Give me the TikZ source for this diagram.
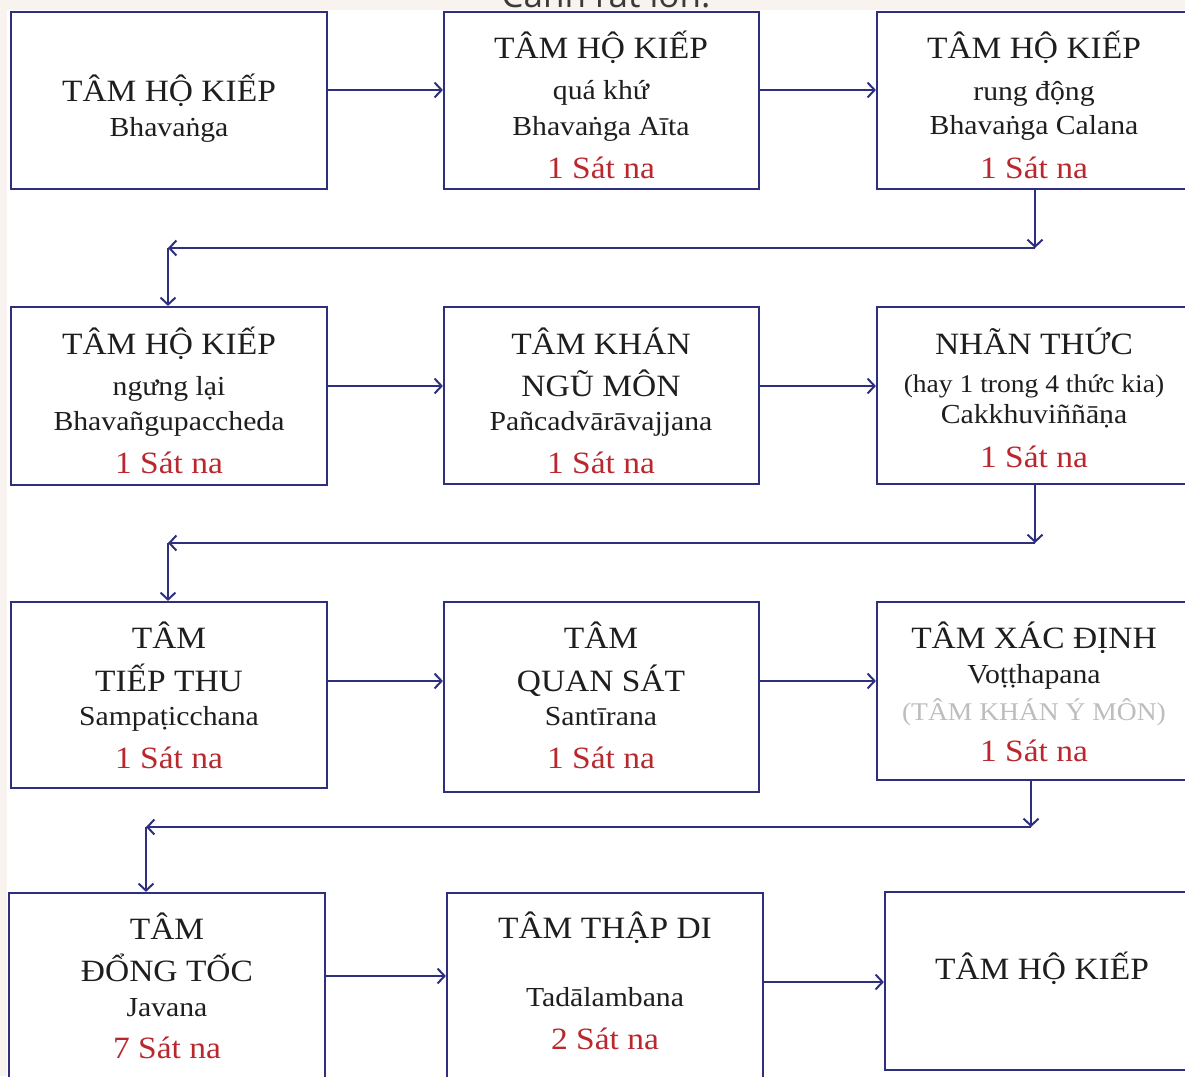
\documentclass[tikz,border=0pt]{standalone}
\usepackage{fontspec}
\setmainfont[FakeStretch=1.08]{Liberation Serif}
\newfontfamily\topfont{Open Sans}
\usetikzlibrary{arrows.meta}
\definecolor{navy}{HTML}{2E2F7E}
\definecolor{redc}{HTML}{B8282E}
\definecolor{txt}{HTML}{1E1E1E}
\definecolor{graytxt}{HTML}{BDBDBD}
\definecolor{beige}{HTML}{F8F3EF}
\definecolor{topgray}{HTML}{3A3A3A}
\begin{document}
\begin{tikzpicture}[x=1pt,y=-1pt,
  box/.style={draw=navy, line width=2.2pt, fill=white, inner sep=0pt, minimum width=316pt, minimum height=177pt},
  arr/.style={draw=navy, line width=2pt, -{Straight Barb[length=7pt,width=15pt,line width=2pt]}},
  ttl/.style={anchor=base, text=txt, font=\fontsize{31}{31}\selectfont},
  sub/.style={anchor=base, text=txt, font=\fontsize{27.5}{27.5}\selectfont},
  sml/.style={anchor=base, text=txt, font=\fontsize{25.5}{25.5}\selectfont},
  rd/.style={anchor=base, text=redc, font=\fontsize{31}{31}\selectfont}]
\useasboundingbox (0,0) rectangle (1185,1076);
\begin{scope}
\clip (0,0) rectangle (1185,1076);
\fill[white] (0,0) rectangle (1185,1076);
\fill[beige] (0,0) rectangle (1185,10);
\fill[beige] (0,0) rectangle (7,1076);
\begin{scope}
\clip (0,0) rectangle (1185,10);
\node[anchor=base, text=topgray, font=\topfont\fontsize{35}{35}\selectfont] (top) at (606,7) {Cảnh rất lớn.};
\end{scope}

% boxes
\node[box] (b1) at (169,100.5) {};
\node[box, minimum width=315pt] (b2) at (601.5,100.5) {};
\node[box] (b3) at (1035,100.5) {};
\node[box, minimum height=178pt] (b4) at (169,396) {};
\node[box, minimum width=315pt] (b5) at (601.5,395.5) {};
\node[box] (b6) at (1035,395.5) {};
\node[box, minimum height=186pt] (b7) at (169,695) {};
\node[box, minimum width=315pt, minimum height=190pt] (b8) at (601.5,697) {};
\node[box, minimum height=178pt] (b9) at (1035,691) {};
\node[box, minimum height=197pt] (b10) at (167,991.5) {};
\node[box, minimum height=197pt] (b11) at (605,991.5) {};
\node[box, minimum height=178pt] (b12) at (1043,981) {};

% texts
\node[ttl] (b1a) at (169,101) {TÂM HỘ KIẾP};
\node[sub] (b1b) at (169,136) {Bhavaṅga};

\node[ttl] (b2a) at (601,58) {TÂM HỘ KIẾP};
\node[sub] (b2b) at (601,99) {quá khứ};
\node[sub] (b2c) at (601,135) {Bhavaṅga Aīta};
\node[rd] (b2d) at (601,178) {1 Sát na};

\node[ttl] (b3a) at (1034,58) {TÂM HỘ KIẾP};
\node[sub] (b3b) at (1034,100) {rung động};
\node[sub] (b3c) at (1034,134) {Bhavaṅga Calana};
\node[rd] (b3d) at (1034,178) {1 Sát na};

\node[ttl] (b4a) at (169,354) {TÂM HỘ KIẾP};
\node[sub] (b4b) at (169,395) {ngưng lại};
\node[sub] (b4c) at (169,430) {Bhavañgupaccheda};
\node[rd] (b4d) at (169,473) {1 Sát na};

\node[ttl] (b5a) at (601,354) {TÂM KHÁN};
\node[ttl] (b5b) at (601,396) {NGŨ MÔN};
\node[sub] (b5c) at (601,430) {Pañcadvārāvajjana};
\node[rd] (b5d) at (601,473) {1 Sát na};

\node[ttl] (b6a) at (1034,354) {NHÃN THỨC};
\node[sml] (b6b) at (1034,392) {(hay 1 trong 4 thức kia)};
\node[sub] (b6c) at (1034,423) {Cakkhuviññāṇa};
\node[rd] (b6d) at (1034,467) {1 Sát na};

\node[ttl] (b7a) at (169,648) {TÂM};
\node[ttl] (b7b) at (169,691) {TIẾP THU};
\node[sub] (b7c) at (169,725) {Sampaṭicchana};
\node[rd] (b7d) at (169,768) {1 Sát na};

\node[ttl] (b8a) at (601,648) {TÂM};
\node[ttl] (b8b) at (601,691) {QUAN SÁT};
\node[sub] (b8c) at (601,725) {Santīrana};
\node[rd] (b8d) at (601,768) {1 Sát na};

\node[ttl] (b9a) at (1034,648) {TÂM XÁC ĐỊNH};
\node[sub] (b9b) at (1034,683) {Voṭṭhapana};
\node[sml, text=graytxt] (b9c) at (1034,720) {(TÂM KHÁN Ý MÔN)};
\node[rd] (b9d) at (1034,761) {1 Sát na};

\node[ttl] (b10a) at (167,939) {TÂM};
\node[ttl] (b10b) at (167,981) {ĐỔNG TỐC};
\node[sub] (b10c) at (167,1016) {Javana};
\node[rd] (b10d) at (167,1058) {7 Sát na};

\node[ttl] (b11a) at (605,938) {TÂM THẬP DI};
\node[sub] (b11b) at (605,1006) {Tadālambana};
\node[rd] (b11c) at (605,1049) {2 Sát na};

\node[ttl] (b12a) at (1042,979) {TÂM HỘ KIẾP};

% row coordinates
\coordinate (r1) at (0,90);
\coordinate (r2) at (0,386);
\coordinate (r3) at (0,681);
\coordinate (r4) at (0,976);
\coordinate (r5) at (0,982);
\coordinate (t1) at (168,248);
\coordinate (t2) at (168,543);
\coordinate (t3) at (146,827);
\coordinate (s3) at (1031,780);

% horizontal arrows
\draw[arr] (b1.east |- r1) -- (b2.west |- r1);
\draw[arr] (b2.east |- r1) -- (b3.west |- r1);
\draw[arr] (b4.east |- r2) -- (b5.west |- r2);
\draw[arr] (b5.east |- r2) -- (b6.west |- r2);
\draw[arr] (b7.east |- r3) -- (b8.west |- r3);
\draw[arr] (b8.east |- r3) -- (b9.west |- r3);
\draw[arr] (b10.east |- r4) -- (b11.west |- r4);
\draw[arr] (b11.east |- r5) -- (b12.west |- r5);

% row-to-row connectors
\draw[arr] (b3.south) -- (b3.south |- t1);
\draw[arr] (b3.south |- t1) -- (t1);
\draw[arr] (t1) -- (t1 |- b4.north);
\draw[arr] (b6.south) -- (b6.south |- t2);
\draw[arr] (b6.south |- t2) -- (t2);
\draw[arr] (t2) -- (t2 |- b7.north);
\draw[arr] (s3 |- b9.south) -- (s3 |- t3);
\draw[arr] (s3 |- t3) -- (t3);
\draw[arr] (t3) -- (t3 |- b10.north);
\end{scope}
\end{tikzpicture}
\end{document}
